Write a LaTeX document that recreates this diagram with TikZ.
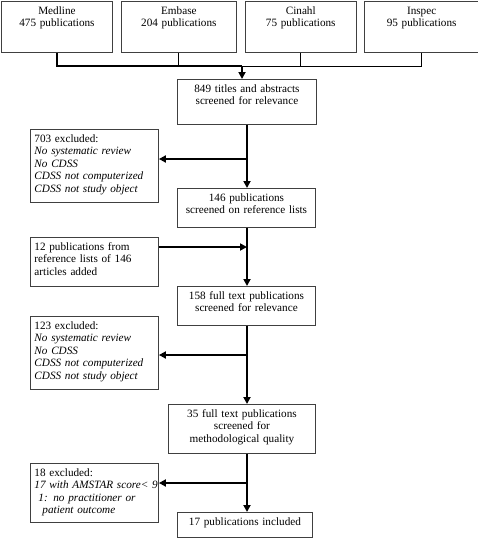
\documentclass[tikz,border=0pt]{standalone}
\usepackage{fontspec}
\setmainfont{Liberation Serif}
\usetikzlibrary{arrows.meta,positioning}

\begin{document}
\begin{tikzpicture}[x=1pt, y=-1pt, node distance=8pt,
    font=\fontsize{11.2}{12.5}\selectfont,
    stage/.style={draw=black!75, line width=0.9pt, anchor=north west, align=center,
      inner xsep=4pt, inner ysep=4pt, text height=9pt},
    note/.style={stage, align=left, text width=120pt},
    flow/.style={line width=2pt, -{Triangle[length=7pt,width=7pt]}},
    feed/.style={line width=0.9pt}]
  \useasboundingbox (0,0) rectangle (477,538);

  % sources
  \node[stage, text width=103pt, text depth=34pt] (medline) at (1,1) {Medline\\475 publications};
  \node[stage, text width=107pt, text depth=34pt, right=8pt of medline] (embase) {Embase\\204 publications};
  \node[stage, text width=103pt, text depth=34pt, right=8pt of embase] (cinahl) {Cinahl\\75 publications};
  \node[stage, text width=107pt, text depth=34pt, right=7pt of cinahl] (inspec) {Inspec\\95 publications};

  % screening steps
  \node[stage, text width=131pt, text depth=28pt] (screen849) at (177,79) {849 titles and abstracts\\screened for relevance};
  \node[stage, text width=130pt, text depth=22pt] (pub146) at (177,188) {146 publications\\screened on reference lists};
  \node[stage, text width=130pt, text depth=22pt] (full158) at (177,286) {158 full text publications\\screened for relevance};
  \node[stage, text width=139pt, text depth=32pt] (full35) at (168,404) {35 full text publications\\screened for\\methodological quality};
  \node[stage, text width=127pt, text depth=8pt] (incl17) at (177,512) {17 publications included};

  % side boxes
  \node[note, text depth=56pt] (excl703) at (30,129) {703 excluded:\\\textit{No systematic review}\\\textit{No CDSS}\\\textit{CDSS not computerized}\\\textit{CDSS not study object}};
  \node[note, text depth=32pt] (add12) at (30,237) {12 publications from\\reference lists of 146\\articles added};
  \node[note, text depth=56pt] (excl123) at (30,316) {123 excluded:\\\textit{No systematic review}\\\textit{No CDSS}\\\textit{CDSS not computerized}\\\textit{CDSS not study object}};
  \node[note, text depth=42pt] (excl18) at (30,463) {18 excluded:\\\makebox[0pt][l]{\textit{17 with AMSTAR score< 9}}\\\hspace*{4pt}\textit{1: no practitioner or}\\\hspace*{8pt}\textit{patient outcome}};

  % merging the sources
  \coordinate (merge) at (242,66);
  \draw[feed] (embase.south) -- (embase.south |- merge);
  \draw[feed] (cinahl.south) -- (cinahl.south |- merge);
  \draw[feed] (inspec.south) -- (inspec.south |- merge) -- (merge);
  \draw[line width=2pt] (medline.south) -- (medline.south |- merge) -- (merge);
  \draw[flow] (merge) -- (merge |- screen849.north);

  % main line
  \coordinate (spine) at (247,0);
  \coordinate (out703) at (247,159);
  \coordinate (in12) at (247,247);
  \coordinate (out123) at (247,355);
  \coordinate (out18) at (247,483);
  \draw[flow] (screen849.south -| spine) -- (pub146.north -| spine);
  \draw[flow] (out703) -- (out703 -| excl703.east);
  \draw[flow] (pub146.south -| spine) -- (full158.north -| spine);
  \draw[flow] (in12 -| add12.east) -- (in12);
  \draw[flow] (full158.south -| spine) -- (full35.north -| spine);
  \draw[flow] (out123) -- (out123 -| excl123.east);
  \draw[flow] (full35.south -| spine) -- (incl17.north -| spine);
  \draw[flow] (out18) -- (out18 -| excl18.east);
\end{tikzpicture}
\end{document}
